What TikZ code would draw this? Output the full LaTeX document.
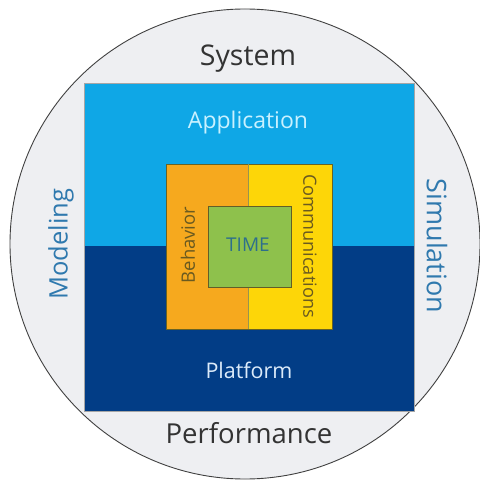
\documentclass[tikz,border=0pt]{standalone}
\usepackage{fontspec}
\setmainfont{Open Sans}
\definecolor{ringfill}{HTML}{EEEFF2}
\definecolor{appblue}{HTML}{0FA7E6}
\definecolor{platblue}{HTML}{023D86}
\definecolor{behorange}{HTML}{F6A91E}
\definecolor{comyellow}{HTML}{FDD608}
\definecolor{timegreen}{HTML}{8EC14C}
\definecolor{outertext}{HTML}{333333}
\definecolor{sidetext}{HTML}{2F79AE}
\definecolor{apptext}{HTML}{C9F1FF}
\definecolor{plattext}{HTML}{DCEBFA}
\definecolor{innertext}{HTML}{6A5A20}
\definecolor{timetext}{HTML}{2D6F8C}
\tikzset{
  fs/.style={font=\fontsize{#1}{#1}\selectfont},
  lbl/.style={inner sep=0pt, anchor=center},
}
\begin{document}
\begin{tikzpicture}[x=1pt,y=-1pt]
\useasboundingbox (0,0) rectangle (479,486);
% outer circle
\node[circle, draw=black!75, line width=0.9pt, fill=ringfill, minimum size=470, inner sep=0pt] (ring) at (245,244) {};
% application / platform halves
\fill[appblue] (84,83) rectangle (414,246);
\fill[platblue] (84,246) rectangle (414,411);
\draw[black!35, line width=0.4pt] (84,83) rectangle (414,411);
% behaviour / communications
\fill[behorange] (166,164) rectangle (248,329);
\fill[comyellow] (248,164) rectangle (332,329);
\draw[black!35!olive, line width=0.5pt] (166,164) rectangle (332,329);
\draw[black!30!olive!70, line width=0.5pt] (248,164) -- (248,329);
% time
\node[draw=black!40!olive, line width=0.6pt, fill=timegreen, minimum width=83, minimum height=81, inner sep=0pt] (time) at (249.5,246.5) {};
% labels
\node[lbl, fs=28.5, text=outertext] (system) at (248,59) {System};
\node[lbl, fs=27.5, text=outertext] (perf) at (249,433) {Performance};
\node[lbl, fs=23, text=apptext] (app) at (248,123) {Application};
\node[lbl, fs=21.5, text=plattext] (plat) at (249,370) {Platform};
\node[lbl, fs=25.5, text=sidetext, rotate=90] (model) at (61,244) {Modeling};
\node[lbl, fs=27, text=sidetext, rotate=-90] (sim) at (437,246) {Simulation};
\node[lbl, fs=18.5, text=innertext, rotate=90] (beh) at (188,245) {Behavior};
\node[lbl, fs=18.2, text=innertext, rotate=-90] (comm) at (310,246) {Communications};
\node[lbl, fs=19, text=timetext] (tl) at (248,245) {TIME};
\end{tikzpicture}
\end{document}
